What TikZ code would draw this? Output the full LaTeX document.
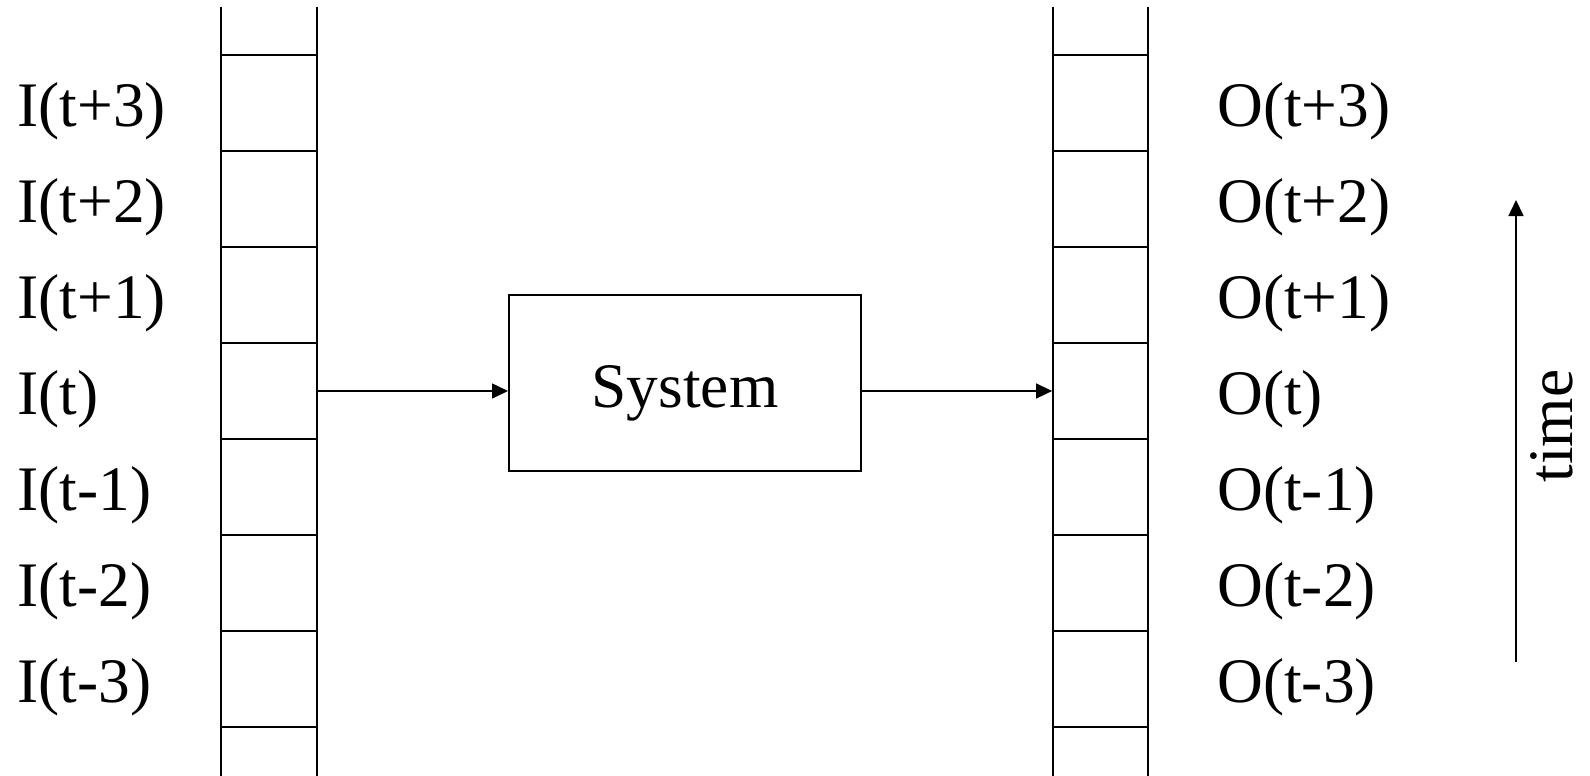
\documentclass[tikz,border=0pt]{standalone}
\usepackage{fontspec}
\setmainfont{Liberation Serif}
\usetikzlibrary{arrows.meta}
\begin{document}
\begin{tikzpicture}[x=0.5pt,y=-0.5pt,
  tape/.style={line width=1pt},
  lbl/.style={inner sep=0pt,font=\fontsize{31.7}{38}\selectfont},
  cellbox/.style={inner sep=0pt,minimum width=48pt,minimum height=48pt},
  sysbox/.style={draw,line width=1pt,inner sep=0pt,minimum width=176pt,minimum height=88pt},
  arr/.style={line width=0.8pt,-{Triangle[length=8pt,width=7.5pt]}}]
\useasboundingbox (0,0) rectangle (1590,776);
% tapes
\foreach \x in {221,317,1053,1148}
  \draw[tape] (\x,7) -- (\x,776);
\foreach \y in {55,151,247,343,439,535,631,727}{
  \draw[tape] (221,\y) -- (317,\y);
  \draw[tape] (1053,\y) -- (1148,\y);
}
% cells used by the connectors
\node[cellbox] (icell) at (269,391) {};
\node[cellbox] (ocell) at (1100.5,391) {};
% labels
\node[lbl,anchor=base west] (i3) at (17,126) {I(t+3)};
\node[lbl,anchor=base west] (i2) at (17,222) {I(t+2)};
\node[lbl,anchor=base west] (i1) at (17,318) {I(t+1)};
\node[lbl,anchor=base west] (i0) at (17,414) {I(t)};
\node[lbl,anchor=base west] (im1) at (17,510) {I(t-1)};
\node[lbl,anchor=base west] (im2) at (17,606) {I(t-2)};
\node[lbl,anchor=base west] (im3) at (17,702) {I(t-3)};
\node[lbl,anchor=base west] (o3) at (1217,126) {O(t+3)};
\node[lbl,anchor=base west] (o2) at (1217,222) {O(t+2)};
\node[lbl,anchor=base west] (o1) at (1217,318) {O(t+1)};
\node[lbl,anchor=base west] (o0) at (1217,414) {O(t)};
\node[lbl,anchor=base west] (om1) at (1217,510) {O(t-1)};
\node[lbl,anchor=base west] (om2) at (1217,606) {O(t-2)};
\node[lbl,anchor=base west] (om3) at (1217,702) {O(t-3)};
% system
\node[sysbox] (sys) at (685,383) {};
\node[lbl,anchor=base] (systxt) at (685,407) {System};
\draw[arr] (icell.east) -- (icell.east -| sys.west);
\draw[arr] (sys.east |- ocell.west) -- (ocell.west);
% time arrow
\coordinate (tb) at (1516,662);
\coordinate (tt) at (1516,200);
\draw[arr] (tb) -- (tt);
\node[lbl,rotate=90,anchor=base] (time) at (1572,426) {time};
\end{tikzpicture}
\end{document}
